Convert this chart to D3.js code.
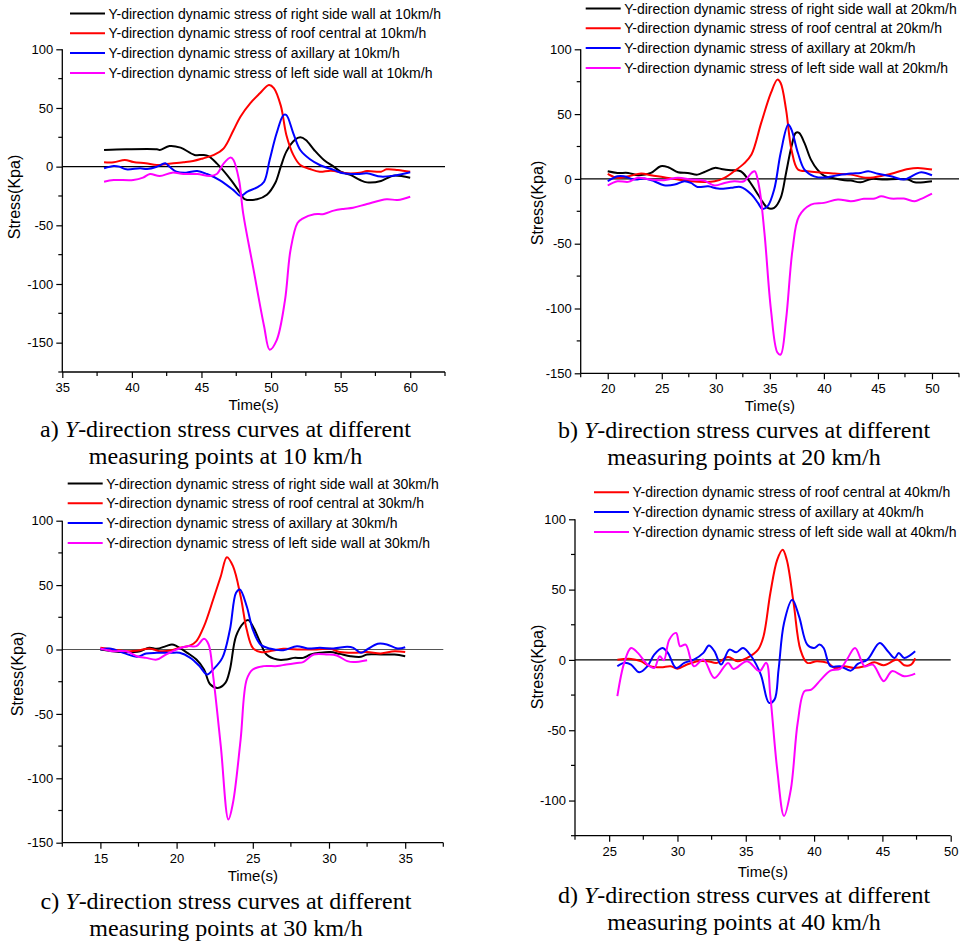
<!DOCTYPE html>
<html>
<head>
<meta charset="utf-8">
<script src="https://cdn.jsdelivr.net/npm/d3@7"></script>
<style>
  html, body { margin: 0; padding: 0; background: #fff; }
  svg { display: block; }
</style>
</head>
<body>
<svg id="chart" width="968" height="941"></svg>
<script>
// ---------------- DATA (time s, stress kPa) ----------------
const seriesNames = ["right side wall", "roof central", "axillary", "left side wall"];
const seriesColors = ["#000000", "#ff0000", "#0000ff", "#ff00ff"];
const speeds = ["10km/h", "20km/h", "30km/h", "40km/h"];
const captionLetters = ["a)", "b)", "c)", "d)"];
const captionSpeeds = ["10 km/h", "20 km/h", "30 km/h", "40 km/h"];

// Panel a (10 km/h)
const a_right = [[38,14.2],[39.6,14.8],[41.8,14.8],[42,14.2],[42.7,17.6],[43.5,16.2],[44.5,10],[45.1,10],[45.5,9],[46.1,2.8],[47.1,-11],[47.8,-22.7],[48.1,-27.6],[49,-27.8],[49.7,-24],[50.3,-14],[50.7,0],[51.1,12.8],[51.7,22.7],[52.1,25],[52.5,22.7],[53.1,14.2],[53.8,5.7],[54.5,0],[55,-4.3],[55.7,-7],[56.4,-11.4],[56.9,-13.4],[57.9,-12.2],[58.3,-10],[58.8,-7.7],[60,-9.4]];
const a_roof = [[38,3.7],[38.7,3.7],[39.5,5.7],[40.1,4],[41,2.8],[41.8,1.4],[42.5,2.3],[43.7,3.7],[44.4,4.8],[45.1,7],[45.9,10],[46.6,15.6],[47.3,31],[47.8,42.6],[48.5,54],[49.2,62.5],[49.85,69.6],[50.2,67],[50.7,52],[51.1,27],[51.6,10],[52.1,1.4],[52.8,-2],[53.5,-4.3],[54.3,-3.4],[55.5,-5.7],[56.4,-5.1],[56.9,-3.7],[57.9,-4.3],[58.3,-2.3],[59.1,-2.8],[60,-4.3]];
const a_axil = [[38,-1.4],[38.7,0.6],[39.1,0],[39.6,-2.3],[40.6,-1.4],[41.1,-2],[41.8,0],[42.4,2.8],[42.7,0],[43.2,-4.3],[43.9,-5.1],[44.7,-3.7],[45.4,-6.3],[46.3,-11.4],[47.3,-20],[47.8,-25],[48.3,-21.3],[49,-17.6],[49.5,-12.8],[49.9,5.7],[50.4,28.4],[50.9,44],[51.1,44],[51.6,28.4],[52.1,14.2],[52.8,6.3],[53.5,1.4],[54.5,-2.8],[55.2,-5.7],[56.2,-6.3],[56.9,-5.7],[57.9,-8.5],[58.8,-7.7],[60,-4.8]];
const a_left = [[38,-12.8],[38.7,-11.4],[40.1,-11.4],[40.8,-9.4],[41.3,-6.3],[42,-8],[42.9,-5.1],[43.7,-6.3],[44.7,-6.3],[45.6,-8],[46.1,-6.3],[46.6,2.8],[47.1,7.7],[47.3,5.7],[47.7,-11.4],[48,-40],[48.7,-85],[49.5,-136],[49.9,-156],[50.4,-148],[51,-114],[51.4,-71],[51.9,-48],[52.3,-44],[53.1,-40.6],[53.8,-40.3],[54.5,-37.5],[55.2,-36],[55.9,-35],[56.9,-31.8],[58.3,-27.8],[59.1,-28.4],[60,-25.6]];

// Panel b (20 km/h)
const b_right = [[20,5.9],[20.9,4.6],[21.9,4.6],[22.8,2.8],[24,4.6],[24.9,9.8],[25.6,9],[26.5,5.1],[27.4,4.6],[28.3,3.3],[28.9,5.1],[29.9,8.5],[30.5,7.7],[31.4,6.7],[32.3,5.9],[33,-0.5],[33.9,-12],[34.8,-22.4],[35.4,-22.4],[36,-14.7],[36.5,4.6],[37,25],[37.4,35.5],[37.7,35.5],[38.2,27.8],[38.8,14.9],[39.4,7.2],[40,2.6],[41,0.3],[41.9,-1],[42.5,-1.3],[43.4,-2.6],[44.4,0],[45.6,-0.5],[46.8,0],[47.8,-0.5],[48.4,-2.6],[50,-1.8]];
const b_roof = [[20,3.9],[20.9,0.8],[21.9,2],[23.1,4.1],[24,2.8],[25.2,1.3],[26.5,-0.5],[27.7,-1.8],[28.9,-2.3],[29.9,-1.8],[30.8,0.8],[31.7,5.9],[32.6,11.8],[33.3,18.8],[34.2,43.2],[35.1,66.3],[35.7,76.6],[36,74],[36.5,53.5],[37,22.6],[37.6,7.2],[38.5,5.9],[39.4,5.1],[41,4.1],[42.5,3.3],[44,0.8],[45.6,2.8],[46.5,4.6],[47.8,7.7],[48.7,8.5],[50,7.2]];
const b_axil = [[20,-1.8],[20.9,2],[21.5,2],[22.5,-0.5],[23.4,0.3],[24.3,-1.8],[25.2,-4.9],[26.2,-4.4],[27.1,-1.8],[27.7,-3.1],[28.3,-6.2],[29.3,-5.7],[30.2,-7.5],[31.4,-6.9],[32.3,-6.2],[33.3,-12],[33.9,-18.5],[34.3,-23.1],[34.8,-21],[35.4,-8.2],[36,20],[36.7,41.9],[37,38],[37.6,20],[38.2,7.2],[39.1,2],[40,1],[41.3,2.8],[42.5,4.1],[43.4,4.6],[44.1,5.9],[45,3.9],[46.2,2],[47.4,-0.5],[48.4,3.3],[49,5.1],[50,2.8]];
const b_left = [[20,-5.1],[20.9,-1.8],[21.9,-2.3],[22.8,0.8],[24,-0.5],[25.2,-1],[26.5,0.8],[27.7,-0.5],[28.9,-1.3],[29.9,-5.1],[30.8,-3.1],[31.7,-1.8],[32.6,-1.8],[33.3,4.6],[33.6,5.9],[34,-5.7],[34.5,-41.6],[35.1,-100.8],[35.7,-134],[36,-135.5],[36.5,-108.5],[37.1,-54.5],[37.7,-28.8],[38.8,-19.8],[40,-18.5],[41.3,-15.9],[42.5,-17.2],[43.7,-15.4],[44.7,-15.2],[45.3,-13.4],[46.2,-15.2],[47.4,-15.2],[48.4,-17.2],[49,-15.4],[50,-11.3]];

// Panel c (30 km/h)
const c_right = [[15,0],[15.8,-1.3],[16.7,-2],[17.6,-1.3],[18.2,1.3],[18.7,0.5],[19.3,2.6],[19.7,3.9],[20,2.6],[20.7,-2.6],[21.3,-7.8],[21.8,-15.5],[22.2,-27],[22.7,-29.8],[23.2,-25.9],[23.5,-15.5],[23.9,10.4],[24.4,20.7],[24.7,22.8],[25,18.1],[25.5,5.2],[25.9,-3.9],[26.6,-7.8],[27.2,-7.8],[27.7,-6.5],[28.3,-6.5],[28.8,-3.9],[29.4,-2.6],[30.1,-2],[30.7,-3.4],[31.4,-5.2],[32.1,-5.7],[32.5,-3.9],[33.4,-3.9],[34.3,-3.9],[35,-5.2]];
const c_roof = [[15,1.3],[15.8,0],[16.7,-1.3],[17.6,-0.5],[18.2,0.8],[18.9,-1.3],[19.6,-0.8],[20.2,1.3],[20.9,3.1],[21.3,6.5],[21.8,18.1],[22.4,38.8],[22.9,56.9],[23.3,71.7],[23.7,64.7],[24.2,41.4],[24.6,15.5],[25,1.3],[25.5,-2],[26.1,-1.3],[27,0.5],[28.1,0],[29.2,0],[30.1,0.5],[30.7,-2],[31.6,-2.6],[32.5,-2],[33.4,-3.1],[34.3,-1.3],[35,-2]];
const c_axil = [[15,0],[15.6,0.8],[16.5,-2.6],[17.4,-5.7],[18,-3.1],[18.7,-2.6],[19.6,-2.6],[20.2,-2.6],[20.9,-6.5],[21.5,-12.9],[22,-19.4],[22.4,-15.5],[23,-6.5],[23.5,15.5],[23.9,44],[24.15,46.6],[24.6,33.6],[25,15.5],[25.5,3.9],[26.1,0.8],[27,-0.5],[27.9,2.6],[28.6,0.8],[29.4,1.3],[30.3,0.8],[31.2,2.1],[31.6,1.3],[32.1,-2.6],[32.5,0],[33.2,4.4],[33.8,3.9],[34.5,0.8],[35,1.8]];
const c_left = [[15,0.8],[15.8,-1.3],[16.7,-1.3],[17.4,-5.2],[18,-6.5],[18.7,-7.8],[19.3,-3.9],[20,0],[20.7,2.6],[21.3,2.6],[21.8,8.3],[22.1,3.9],[22.4,-20.7],[22.9,-75],[23.4,-132],[23.7,-119],[24.2,-69.9],[24.6,-23.3],[25,-15.5],[25.7,-12.9],[26.6,-12.9],[27.2,-11.6],[27.9,-10.4],[28.3,-9.8],[29,-3.9],[29.9,-3.9],[30.5,-4.7],[31.2,-9],[31.6,-9.8],[32.5,-8.3]];

// Panel d (40 km/h) - no right side wall series
const d_roof = [[25.6,0.2],[26.6,0.7],[27.3,-0.9],[28,-4.5],[28.8,-5.2],[29.5,-4.5],[30,-6.2],[30.7,-3.3],[31.5,-0.9],[32.2,-0.9],[32.9,-2.1],[33.7,2.1],[34.4,-0.9],[35.1,1.4],[35.9,7.3],[36.3,16.8],[36.8,47.6],[37.3,71.2],[37.7,78.3],[38,71.2],[38.5,40.5],[39,7.3],[39.5,-2.1],[40.2,-0.9],[41,-2.1],[41.5,-5.7],[42.2,-4.5],[42.9,-5.7],[43.7,-4.5],[44.4,-1.7],[45.1,-3.8],[46.1,0.2],[46.6,-3.8],[47.1,-3.3],[47.4,1.2]];
const d_axil = [[25.6,-4.5],[26.1,-2.1],[26.6,-3.3],[27.2,-8.8],[27.8,-4.5],[28.3,3.8],[28.9,8.5],[29.3,5],[29.9,-5.7],[30.5,-2.1],[31.2,0.2],[31.9,5],[32.3,10.2],[32.7,6.2],[33.2,-3.3],[33.8,7.3],[34.3,5.4],[34.8,8.5],[35.4,2.6],[36.1,-10.4],[36.7,-30.5],[37.1,-28.2],[37.4,-6.9],[37.8,26.3],[38.4,42.8],[38.9,31],[39.5,10.9],[40,8.5],[40.4,10.9],[40.7,8.5],[41.2,-4.5],[41.9,-4.5],[42.7,-7.6],[43.2,-2.8],[43.9,0.2],[44.8,12.1],[45.4,6.2],[45.9,1.4],[46.2,5],[46.6,1.4],[47.4,6.2]];
const d_left = [[25.6,-25.8],[26.1,-2.1],[26.6,8.5],[27.1,5],[27.8,-3.3],[28.3,-5.7],[28.7,2.6],[29,-0.2],[29.4,14.4],[29.9,19.2],[30.2,9.7],[30.6,10.9],[31.2,-4.5],[31.9,0.2],[32.7,-12.8],[33.7,-2.1],[34.1,-6.4],[35.1,-0.9],[36,-8],[36.5,-2.1],[36.8,-25.8],[37.3,-77.9],[37.8,-111],[38.3,-92],[38.8,-44.7],[39.3,-22.2],[39.8,-21.1],[40.5,-14],[41.2,-7.6],[41.9,-6.4],[42.4,0.2],[43,8.5],[43.7,-4.5],[44.3,-3.3],[45.1,-15.1],[45.7,-8],[46.6,-11.6],[47.4,-9.7]];

// Axis ranges / ticks
const a_xDomain = [35, 62.5], a_yDomain = [-175, 100];
const b_xDomain = [17.5, 52.5], b_yDomain = [-150, 100];
const c_xDomain = [12.5, 37.5], c_yDomain = [-150, 100];
const d_xDomain = [22.5, 50], d_yDomain = [-125, 100];
const a_xTicks = [35, 40, 45, 50, 55, 60], a_yTicks = [100, 50, 0, -50, -100, -150];
const b_xTicks = [20, 25, 30, 35, 40, 45, 50], b_yTicks = [100, 50, 0, -50, -100, -150];
const c_xTicks = [15, 20, 25, 30, 35], c_yTicks = [100, 50, 0, -50, -100, -150];
const d_xTicks = [25, 30, 35, 40, 45, 50], d_yTicks = [100, 50, 0, -50, -100];

// ---------------- LAYOUT ----------------
const panels = [
  { series: [a_right, a_roof, a_axil, a_left], idx: [0,1,2,3], xd: a_xDomain, yd: a_yDomain, xt: a_xTicks, yt: a_yTicks,
    L: 62.3, R: 445, T: 49.3, B: 372, legX: 70, legY: 13.5, yTitleX: 20, yTitleY: 197, xTitleY: 410, capX: 225.5, capY: 437 },
  { series: [b_right, b_roof, b_axil, b_left], idx: [0,1,2,3], xd: b_xDomain, yd: b_yDomain, xt: b_xTicks, yt: b_yTicks,
    L: 580.7, R: 959, T: 49.3, B: 373.3, legX: 585.7, legY: 8.5, yTitleX: 543, yTitleY: 203, xTitleY: 411, capX: 744, capY: 438 },
  { series: [c_right, c_roof, c_axil, c_left], idx: [0,1,2,3], xd: c_xDomain, yd: c_yDomain, xt: c_xTicks, yt: c_yTicks,
    L: 62.3, R: 443.3, T: 520.7, B: 842.7, legX: 67.7, legY: 483.5, yTitleX: 23, yTitleY: 674, xTitleY: 881, capX: 226, capY: 909 },
  { series: [d_roof, d_axil, d_left], idx: [1,2,3], xd: d_xDomain, yd: d_yDomain, xt: d_xTicks, yt: d_yTicks,
    L: 575, R: 950.7, T: 519.3, B: 835.7, legX: 594, legY: 492.3, yTitleX: 543, yTitleY: 667, xTitleY: 877, capX: 744, capY: 903 }
];

const svg = d3.select("#chart");
const sansFont = "'Liberation Sans', Arial, sans-serif";
const serifFont = "'Liberation Serif', 'Times New Roman', serif";

panels.forEach((p, pi) => {
  const x = d3.scaleLinear().domain(p.xd).range([p.L, p.R]);
  const y = d3.scaleLinear().domain(p.yd).range([p.B, p.T]);

  const g = svg.append("g");

  // zero reference line
  g.append("line")
    .attr("x1", x(p.xd[0])).attr("x2", x(p.xd[1]))
    .attr("y1", y(0)).attr("y2", y(0))
    .attr("stroke", pi === 2 ? "#555" : "#000").attr("stroke-width", 1.2);

  // curves
  const line = d3.line().x(d => x(d[0])).y(d => y(d[1])).curve(d3.curveCatmullRom.alpha(0.5));
  p.series.forEach((s, si) => {
    g.append("path").datum(s)
      .attr("d", line)
      .attr("fill", "none")
      .attr("stroke", seriesColors[p.idx[si]])
      .attr("stroke-width", 2)
      .attr("stroke-linejoin", "round");
  });

  // axes
  const xMinor = d3.range(p.xd[0], p.xd[1] + 0.01, 2.5).filter(v => !p.xt.includes(v));
  const yMinor = d3.range(p.yd[0], p.yd[1] + 0.01, 25).filter(v => !p.yt.includes(v));
  const fmt = d => String(d);

  const xAxis = d3.axisBottom(x).tickValues(p.xt).tickSize(6).tickSizeOuter(0).tickFormat(fmt);
  const yAxis = d3.axisLeft(y).tickValues(p.yt).tickSize(6).tickSizeOuter(0).tickFormat(fmt);

  const gx = g.append("g").attr("transform", `translate(0,${p.B})`).call(xAxis);
  gx.select(".domain").attr("d", `M${p.L},0H${p.R}`).attr("stroke-width", 1.3);
  gx.selectAll(".tick line").attr("stroke-width", 1.2);
  gx.selectAll(".tick text").attr("font-family", sansFont).attr("font-size", 13).attr("y", 9).attr("dy", "0.85em");
  gx.selectAll(".minor").data(xMinor).enter().append("line")
    .attr("x1", d => x(d)).attr("x2", d => x(d)).attr("y1", 0).attr("y2", 4)
    .attr("stroke", "#000").attr("stroke-width", 1.2);

  const gy = g.append("g").attr("transform", `translate(${p.L},0)`).call(yAxis);
  gy.select(".domain").attr("d", `M0,${p.T}V${p.B}`).attr("stroke-width", 1.3);
  gy.selectAll(".tick line").attr("stroke-width", 1.2);
  gy.selectAll(".tick text").attr("font-family", sansFont).attr("font-size", 13).attr("x", -9);
  gy.selectAll(".minor").data(yMinor).enter().append("line")
    .attr("x1", 0).attr("x2", -4).attr("y1", d => y(d)).attr("y2", d => y(d))
    .attr("stroke", "#000").attr("stroke-width", 1.2);

  // axis titles
  g.append("text")
    .attr("transform", `translate(${p.yTitleX},${p.yTitleY}) rotate(-90)`)
    .attr("text-anchor", "middle")
    .attr("font-family", sansFont).attr("font-size", 16)
    .text("Stress(Kpa)");
  g.append("text")
    .attr("x", (p.L + p.R) / 2).attr("y", p.xTitleY)
    .attr("text-anchor", "middle")
    .attr("font-family", sansFont).attr("font-size", 15)
    .text("Time(s)");

  // legend
  p.idx.forEach((si, k) => {
    const ly = p.legY + k * 19.8;
    g.append("line")
      .attr("x1", p.legX).attr("x2", p.legX + 35)
      .attr("y1", ly).attr("y2", ly)
      .attr("stroke", seriesColors[si]).attr("stroke-width", 2);
    g.append("text")
      .attr("x", p.legX + 38.5).attr("y", ly + 5)
      .attr("font-family", sansFont).attr("font-size", 14)
      .text(`Y-direction dynamic stress of ${seriesNames[si]} at ${speeds[pi]}`);
  });

  // caption
  const cap = g.append("text")
    .attr("x", p.capX).attr("y", p.capY)
    .attr("text-anchor", "middle")
    .attr("font-family", serifFont).attr("font-size", 24);
  cap.append("tspan").text(captionLetters[pi] + " ");
  cap.append("tspan").attr("font-style", "italic").text("Y");
  cap.append("tspan").text("-direction stress curves at different");
  g.append("text")
    .attr("x", p.capX).attr("y", p.capY + 26.7)
    .attr("text-anchor", "middle")
    .attr("font-family", serifFont).attr("font-size", 24)
    .text(`measuring points at ${captionSpeeds[pi]}`);
});
</script>
</body>
</html>
